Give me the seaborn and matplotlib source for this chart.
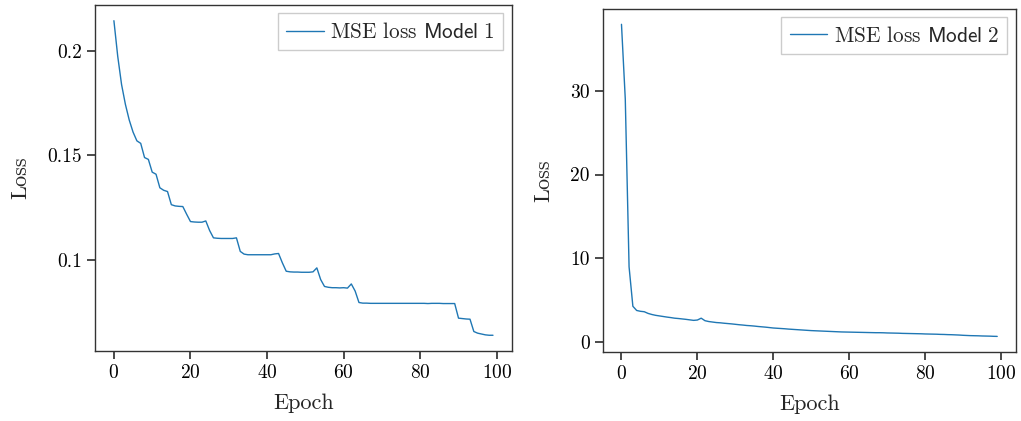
import numpy as np
import pandas as pd
import matplotlib
matplotlib.use("Agg")
import matplotlib.pyplot as plt
import seaborn as sns
from matplotlib.ticker import FuncFormatter

epochs = list(range(100))

loss_model1 = [
    0.2146, 0.1975, 0.1840, 0.1745, 0.1670, 0.1612, 0.1570, 0.1558, 0.1490, 0.1481,
    0.1420, 0.1410, 0.1345, 0.1333, 0.1327, 0.1264, 0.1258, 0.1256, 0.1255, 0.1218,
    0.1183, 0.1181, 0.1180, 0.1180, 0.1186, 0.1140, 0.1105, 0.1103, 0.1102, 0.1102,
    0.1102, 0.1102, 0.1105, 0.1040, 0.1027, 0.1024, 0.1024, 0.1024, 0.1024, 0.1024,
    0.1024, 0.1024, 0.1028, 0.1030, 0.0985, 0.0945, 0.0942, 0.0941, 0.0941, 0.0940,
    0.0940, 0.0940, 0.0942, 0.0961, 0.0905, 0.0872, 0.0868, 0.0866, 0.0866, 0.0865,
    0.0866, 0.0864, 0.0884, 0.0850, 0.0795, 0.0792, 0.0792, 0.0791, 0.0791, 0.0791,
    0.0791, 0.0791, 0.0791, 0.0791, 0.0791, 0.0791, 0.0791, 0.0791, 0.0791, 0.0791,
    0.0791, 0.0791, 0.0790, 0.0791, 0.0791, 0.0791, 0.0790, 0.0790, 0.0790, 0.0790,
    0.0720, 0.0718, 0.0716, 0.0715, 0.0656, 0.0648, 0.0644, 0.0640, 0.0638, 0.0638,
]

loss_model2 = [
    37.9, 29.0, 9.0, 4.30, 3.80, 3.70, 3.65, 3.45, 3.32, 3.22,
    3.15, 3.08, 3.01, 2.95, 2.88, 2.84, 2.79, 2.74, 2.68, 2.62,
    2.66, 2.88, 2.58, 2.48, 2.42, 2.36, 2.33, 2.28, 2.24, 2.20,
    2.15, 2.10, 2.06, 2.01, 1.98, 1.94, 1.89, 1.85, 1.81, 1.76,
    1.71, 1.68, 1.65, 1.62, 1.58, 1.55, 1.52, 1.49, 1.46, 1.43,
    1.40, 1.38, 1.36, 1.34, 1.32, 1.30, 1.28, 1.26, 1.24, 1.23,
    1.22, 1.21, 1.20, 1.19, 1.18, 1.17, 1.16, 1.15, 1.15, 1.14,
    1.12, 1.11, 1.10, 1.09, 1.07, 1.06, 1.05, 1.04, 1.03, 1.02,
    1.00, 0.99, 0.98, 0.97, 0.95, 0.94, 0.92, 0.91, 0.89, 0.87,
    0.84, 0.82, 0.80, 0.79, 0.78, 0.76, 0.75, 0.74, 0.72, 0.71,
]

legend_labels = [r"MSE loss $\mathsf{Model\ 1}$", r"MSE loss $\mathsf{Model\ 2}$"]
x_ticks = [0, 20, 40, 60, 80, 100]

sns.set_theme(style="ticks")
plt.rcParams.update({
    "font.family": "serif",
    "font.serif": ["cmr10"],
    "mathtext.fontset": "cm",
    "axes.formatter.use_mathtext": True,
    "axes.edgecolor": "#333333",
    "axes.linewidth": 1.0,
    "xtick.color": "#333333",
    "ytick.color": "#333333",
    "xtick.labelcolor": "black",
    "ytick.labelcolor": "black",
    "xtick.major.size": 6,
    "ytick.major.size": 6,
    "xtick.labelsize": 14,
    "ytick.labelsize": 14,
    "axes.labelsize": 16,
    "legend.fontsize": 15.3,
})

fig = plt.figure(figsize=(10.21, 4.21), dpi=100)
ax1 = fig.add_axes([0.0930, 0.1663, 0.4084, 0.8219])
ax2 = fig.add_axes([0.5903, 0.1639, 0.4048, 0.8154])

df1 = pd.DataFrame({"Epoch": epochs, "Loss": loss_model1})
df2 = pd.DataFrame({"Epoch": epochs, "Loss": loss_model2})

for ax, df, lab in [(ax1, df1, legend_labels[0]), (ax2, df2, legend_labels[1])]:
    sns.lineplot(data=df, x="Epoch", y="Loss", ax=ax, color="#1f77b4",
                 linewidth=1.0, label=lab)
    ax.set_xticks(x_ticks)
    ax.set_xlabel("Epoch", labelpad=8)
    ax.set_ylabel("Loss", labelpad=12)
    ax.yaxis.set_major_formatter(FuncFormatter(lambda v, p: f"{v:g}"))
    leg = ax.legend(loc="upper right", fancybox=False, framealpha=1.0,
                    edgecolor="#cccccc", handlelength=1.75, handletextpad=0.3,
                    borderaxespad=0.4)
    leg.get_frame().set_linewidth(1.0)

ax1.set_yticks([0.1, 0.15, 0.2])
ax2.set_yticks([0, 10, 20, 30])

fig.savefig("out.png", dpi=100)
